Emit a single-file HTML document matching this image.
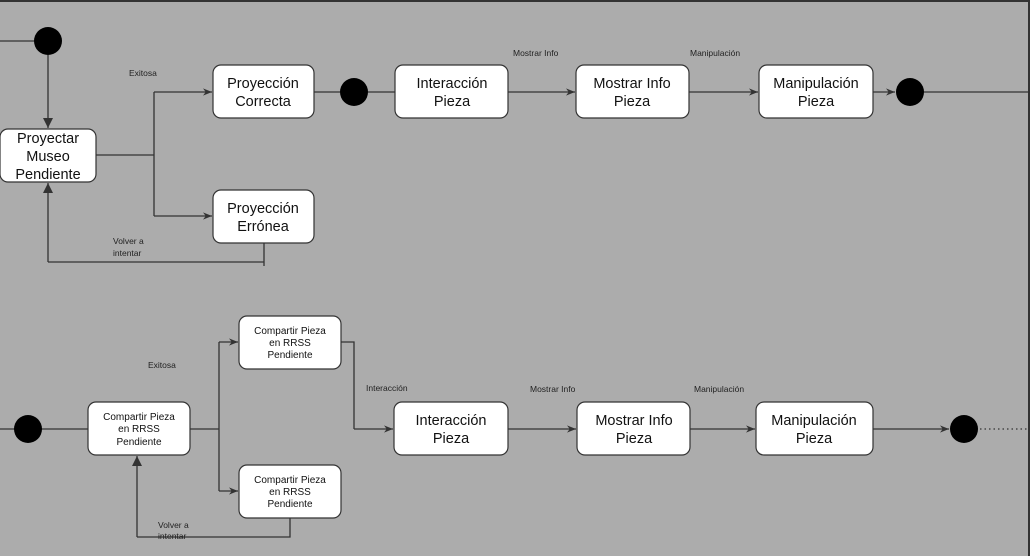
<!DOCTYPE html>
<html><head><meta charset="utf-8"><style>
html,body{margin:0;padding:0;background:#acacac;}
svg{display:block;font-family:"Liberation Sans",Arial,sans-serif;}
.b{fill:#fff;stroke:#333;stroke-width:1.2;}
.l{stroke:#333;stroke-width:1.3;fill:none;}
.t{font-size:14.5px;fill:#111;text-anchor:middle;}
.s{font-size:10px;fill:#111;text-anchor:middle;}
.k{font-size:8.5px;fill:#222;}
</style></head><body>
<svg width="1030" height="556" viewBox="0 0 1030 556">
<defs><marker id="a" viewBox="0 0 10 10" refX="10" refY="5" markerWidth="9" markerHeight="9" orient="auto" markerUnits="userSpaceOnUse"><path d="M0,1 L10,5 L0,9 L3,5 z" fill="#333"/></marker>
<marker id="f" viewBox="0 0 10 10" refX="10" refY="5" markerWidth="10" markerHeight="10" orient="auto" markerUnits="userSpaceOnUse"><path d="M0,0 L10,5 L0,10 z" fill="#333"/></marker></defs>
<rect x="0" y="0" width="1030" height="556" fill="#acacac"/>
<line x1="0" y1="1" x2="1030" y2="1" stroke="#333" stroke-width="2"/>
<line x1="1029" y1="0" x2="1029" y2="556" stroke="#333" stroke-width="2"/>
<!-- top row -->
<line class="l" x1="0" y1="41" x2="34" y2="41"/>
<circle cx="48" cy="41" r="14" fill="#000"/>
<line class="l" x1="48" y1="55" x2="48" y2="128" marker-end="url(#f)"/>
<rect class="b" x="0" y="129" width="96" height="53" rx="8"/>
<text class="t" x="48" y="143">Proyectar</text><text class="t" x="48" y="161">Museo</text><text class="t" x="48" y="179">Pendiente</text>
<path class="l" d="M96,155 H154 M154,92 V216"/>
<line class="l" x1="154" y1="92" x2="212" y2="92" marker-end="url(#a)"/>
<line class="l" x1="154" y1="216" x2="212" y2="216" marker-end="url(#a)"/>
<text class="k" x="129" y="76">Exitosa</text>
<rect class="b" x="213" y="65" width="101" height="53" rx="8"/>
<text class="t" x="263" y="88">Proyección</text><text class="t" x="263" y="106">Correcta</text>
<rect class="b" x="213" y="190" width="101" height="53" rx="8"/>
<text class="t" x="263" y="213">Proyección</text><text class="t" x="263" y="231">Errónea</text>
<path class="l" d="M264,243 V266 M264,262 H48"/>
<line class="l" x1="48" y1="262" x2="48" y2="183" marker-end="url(#f)"/>
<text class="k" x="113" y="244">Volver a</text><text class="k" x="113" y="256">intentar</text>
<line class="l" x1="314" y1="92" x2="340" y2="92"/>
<circle cx="354" cy="92" r="14" fill="#000"/>
<line class="l" x1="368" y1="92" x2="395" y2="92"/>
<rect class="b" x="395" y="65" width="113" height="53" rx="8"/>
<text class="t" x="452" y="88">Interacción</text><text class="t" x="452" y="106">Pieza</text>
<line class="l" x1="508" y1="92" x2="575" y2="92" marker-end="url(#a)"/>
<text class="k" x="513" y="56">Mostrar Info</text>
<rect class="b" x="576" y="65" width="113" height="53" rx="8"/>
<text class="t" x="632" y="88">Mostrar Info</text><text class="t" x="632" y="106">Pieza</text>
<line class="l" x1="689" y1="92" x2="758" y2="92" marker-end="url(#a)"/>
<text class="k" x="690" y="56">Manipulación</text>
<rect class="b" x="759" y="65" width="114" height="53" rx="8"/>
<text class="t" x="816" y="88">Manipulación</text><text class="t" x="816" y="106">Pieza</text>
<line class="l" x1="873" y1="92" x2="895" y2="92" marker-end="url(#a)"/>
<circle cx="910" cy="92" r="14" fill="#000"/>
<line class="l" x1="924" y1="92" x2="1030" y2="92"/>
<!-- bottom row -->
<line class="l" x1="0" y1="429" x2="88" y2="429"/>
<circle cx="28" cy="429" r="14" fill="#000"/>
<rect class="b" x="88" y="402" width="102" height="53" rx="8"/>
<text class="s" x="139" y="420">Compartir Pieza</text><text class="s" x="139" y="432">en RRSS</text><text class="s" x="139" y="445">Pendiente</text>
<path class="l" d="M190,429 H219 M219,342 V491"/>
<line class="l" x1="219" y1="342" x2="238" y2="342" marker-end="url(#a)"/>
<line class="l" x1="219" y1="491" x2="238" y2="491" marker-end="url(#a)"/>
<text class="k" x="148" y="368">Exitosa</text>
<rect class="b" x="239" y="316" width="102" height="53" rx="8"/>
<text class="s" x="290" y="334">Compartir Pieza</text><text class="s" x="290" y="346">en RRSS</text><text class="s" x="290" y="358">Pendiente</text>
<rect class="b" x="239" y="465" width="102" height="53" rx="8"/>
<text class="s" x="290" y="483">Compartir Pieza</text><text class="s" x="290" y="495">en RRSS</text><text class="s" x="290" y="507">Pendiente</text>
<path class="l" d="M290,518 V537 H137"/>
<line class="l" x1="137" y1="537" x2="137" y2="456" marker-end="url(#f)"/>
<text class="k" x="158" y="528">Volver a</text><text class="k" x="158" y="539">intentar</text>
<path class="l" d="M341,342 H354 V429"/>
<line class="l" x1="354" y1="429" x2="393" y2="429" marker-end="url(#a)"/>
<text class="k" x="366" y="391">Interacción</text>
<rect class="b" x="394" y="402" width="114" height="53" rx="8"/>
<text class="t" x="451" y="425">Interacción</text><text class="t" x="451" y="443">Pieza</text>
<line class="l" x1="508" y1="429" x2="576" y2="429" marker-end="url(#a)"/>
<text class="k" x="530" y="392">Mostrar Info</text>
<rect class="b" x="577" y="402" width="113" height="53" rx="8"/>
<text class="t" x="634" y="425">Mostrar Info</text><text class="t" x="634" y="443">Pieza</text>
<line class="l" x1="690" y1="429" x2="755" y2="429" marker-end="url(#a)"/>
<text class="k" x="694" y="392">Manipulación</text>
<rect class="b" x="756" y="402" width="117" height="53" rx="8"/>
<text class="t" x="814" y="425">Manipulación</text><text class="t" x="814" y="443">Pieza</text>
<line class="l" x1="873" y1="429" x2="949" y2="429" marker-end="url(#a)"/>
<circle cx="964" cy="429" r="14" fill="#000"/>
<line x1="980" y1="429" x2="1028" y2="429" stroke="#333" stroke-width="1.2" stroke-dasharray="1.5,3"/>
</svg>
</body></html>
